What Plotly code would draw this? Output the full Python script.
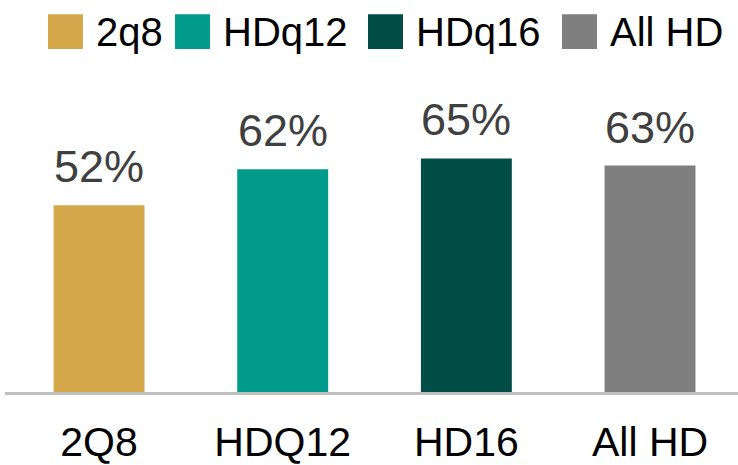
import plotly.graph_objects as go

# Chart data
categories = ["2Q8", "HDQ12", "HD16", "All HD"]
series_names = ["2q8", "HDq12", "HDq16", "All HD"]
values = [52, 62, 65, 63]
colors = ["#D6A84C", "#009B8B", "#024E47", "#7F7F7F"]

W, H = 738, 465
M_L, M_R, M_T, M_B = 5, 0, 60, 71
PLOT_W = W - M_L - M_R
PLOT_H = H - M_T - M_B
FONT = "Liberation Sans, Arial, sans-serif"


def px_x(px):
    return (px - M_L) / PLOT_W


def px_y(py):
    return (H - M_B - py) / PLOT_H


fig = go.Figure()
fig.add_trace(go.Bar(
    x=list(range(len(categories))),
    y=values,
    marker=dict(color=colors, line=dict(width=0)),
    width=0.495,
    showlegend=False,
    hoverinfo="skip",
))

# Value labels above each bar
annotations = []
for i, v in enumerate(values):
    annotations.append(dict(
        x=i, y=v, xref="x", yref="y",
        text=f"{v}%", showarrow=False,
        xanchor="center", yanchor="bottom", yshift=11,
        font=dict(family=FONT, size=45, color="#404040"),
    ))

# Custom legend with large colour swatches
shapes = []
legend_x = [48, 175, 368, 562]
sq = 35
sq_top = 14
for name, col, lx in zip(series_names, colors, legend_x):
    shapes.append(dict(
        type="rect", xref="paper", yref="paper",
        x0=px_x(lx), x1=px_x(lx + sq),
        y0=px_y(sq_top + sq), y1=px_y(sq_top),
        fillcolor=col, line=dict(width=0),
    ))
    annotations.append(dict(
        x=px_x(lx + sq + 11), y=px_y(sq_top + sq / 2),
        xref="paper", yref="paper",
        text=name, showarrow=False,
        xanchor="left", yanchor="middle",
        font=dict(family=FONT, size=40, color="#000000"),
    ))

fig.update_layout(
    width=W, height=H,
    margin=dict(l=M_L, r=M_R, t=M_T, b=M_B, pad=0),
    paper_bgcolor="white", plot_bgcolor="white",
    annotations=annotations,
    shapes=shapes,
    xaxis=dict(
        range=[-0.512, 3.479],
        tickmode="array",
        tickvals=list(range(len(categories))),
        ticktext=categories,
        tickfont=dict(family=FONT, size=41, color="#000000"),
        showgrid=False, zeroline=False,
        showline=True, linecolor="#BFBFBF", linewidth=3,
        ticks="", ticklabelstandoff=12,
        fixedrange=True,
    ),
    yaxis=dict(
        range=[0, PLOT_H / 3.615],
        visible=False, showgrid=False, zeroline=False,
        fixedrange=True,
    ),
    showlegend=False,
)

fig.write_html("out.html", config={"displayModeBar": False})
